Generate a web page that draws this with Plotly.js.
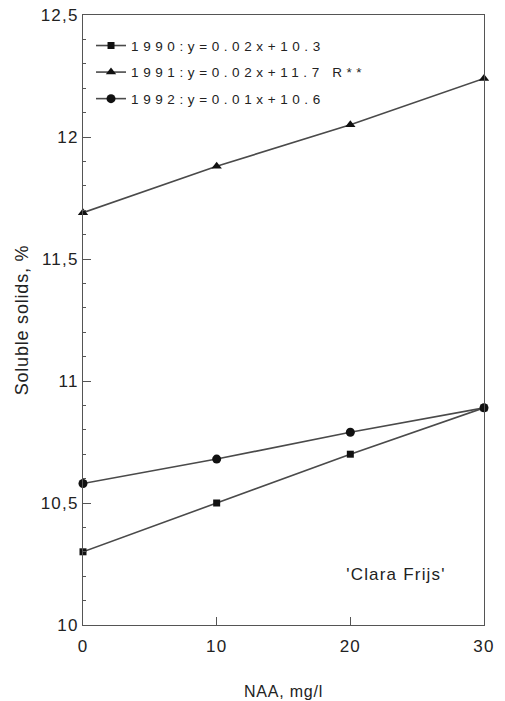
<!DOCTYPE html>
<html>
<head>
<meta charset="utf-8">
<script src="https://cdn.plot.ly/plotly-3.0.1.min.js"></script>
<style>
  html, body { margin: 0; padding: 0; background: #fff; }
  #chart { width: 505px; height: 701px; }
  /* wide, typewriter-like spacing of the figure's lettering */
  #chart .legendtext { letter-spacing: 4.6px; }
  #chart .legend .scrollbox { clip-path: none !important; }
  #chart .ytick text, #chart .xtick text { letter-spacing: 1.2px; }
  #chart .g-ytitle text, #chart .g-xtitle text { letter-spacing: 0.8px; }
  #chart .annotation-text { letter-spacing: 1.2px; }
</style>
</head>
<body>
<div id="chart"></div>
<script>
// NAA concentrations (mg/l)
const naa = [0, 10, 20, 30];

// Soluble solids (%) per season
const years = ['1990', '1991', '1992'];
const solids1990 = [10.30, 10.50, 10.70, 10.89];
const solids1991 = [11.69, 11.88, 12.05, 12.24];
const solids1992 = [10.58, 10.68, 10.79, 10.89];

// Regression labels shown in the legend
const legendLabels = [
  '1990:y=0.02x+10.3',
  '1991:y=0.02x+11.7 R**',
  '1992:y=0.01x+10.6'
];
const symbols = ['square', 'triangle-up', 'circle'];
const markerSizes = [7, 9, 9];

// Axis ticks
const xTicks = [0, 10, 20, 30];
const xTickText = ['0', '10', '20', '30'];
const yTicks = [10, 10.5, 11, 11.5, 12, 12.5];
const yTickText = ['10', '10,5', '11', '11,5', '12', '12,5'];

const series = [solids1990, solids1991, solids1992];
const traces = series.map((vals, i) => ({
  x: naa,
  y: vals,
  type: 'scatter',
  mode: 'lines+markers',
  name: legendLabels[i],
  legendgroup: years[i],
  line: { color: '#4a4a4a', width: 1.6 },
  marker: { symbol: symbols[i], size: markerSizes[i], color: '#111' },
  cliponaxis: false
}));

const FONT = 'Liberation Sans, Arial, sans-serif';
const axisFont = { family: FONT, size: 17, color: '#222' };

const layout = {
  width: 505,
  height: 701,
  margin: { l: 83, r: 21, t: 15, b: 76 },
  paper_bgcolor: '#fff',
  plot_bgcolor: '#fff',
  showlegend: true,
  legend: {
    x: 0.02, y: 0.975, xanchor: 'left', yanchor: 'top',
    bgcolor: 'rgba(0,0,0,0)',
    font: { family: FONT, size: 13.5, color: '#222' },
    itemwidth: 30,
    tracegroupgap: 6
  },
  xaxis: {
    range: [0, 30],
    tickvals: xTicks,
    ticktext: xTickText,
    ticks: 'inside',
    ticklen: 8,
    tickcolor: '#555',
    ticklabelstandoff: 6,
    showline: true,
    linecolor: '#555',
    linewidth: 1,
    mirror: true,
    showgrid: false,
    zeroline: false,
    tickfont: axisFont,
    title: { text: 'NAA, mg/l', font: { family: FONT, size: 16, color: '#222' }, standoff: 30 }
  },
  yaxis: {
    range: [10, 12.5],
    tickvals: yTicks,
    ticktext: yTickText,
    ticks: 'inside',
    ticklen: 8,
    tickcolor: '#555',
    minor: { dtick: 0.1, ticks: 'inside', ticklen: 3, tickcolor: '#555', showgrid: false },
    showline: true,
    linecolor: '#555',
    linewidth: 1,
    mirror: true,
    showgrid: false,
    zeroline: false,
    tickfont: axisFont,
    title: { text: 'Soluble solids, %', font: { family: FONT, size: 18, color: '#222' }, standoff: 12 }
  },
  annotations: [{
    x: 0.78, y: 0.082, xref: 'paper', yref: 'paper',
    xanchor: 'center', yanchor: 'middle',
    text: "'Clara Frijs'",
    showarrow: false,
    font: { family: FONT, size: 17, color: '#222' }
  }]
};

Plotly.newPlot('chart', traces, layout, { displayModeBar: false, staticPlot: true });
</script>
</body>
</html>
